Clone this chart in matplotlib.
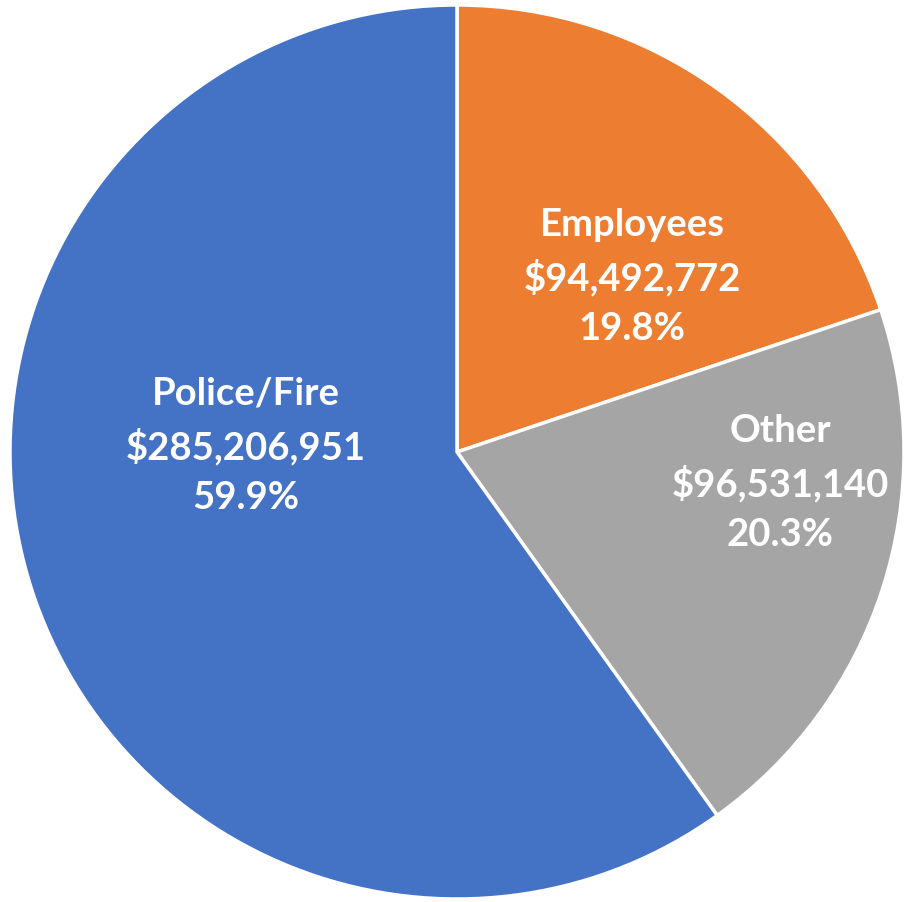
import matplotlib.pyplot as plt

# data
categories = ["Employees", "Other", "Police/Fire"]
amounts = [94492772, 96531140, 285206951]
colors = ["#ED7D31", "#A5A5A5", "#4472C4"]

# label centres (pixel coords, y from top)
label_pos = [(632, 277), (780, 483), (246, 446)]

W, H = 905, 902
fig = plt.figure(figsize=(W / 100, H / 100), dpi=100)
ax = fig.add_axes([0, 0, 1, 1])

cx, cy, r = 457, H - 452, 447
ax.pie(amounts, colors=colors, startangle=90, counterclock=False,
       center=(cx, cy), radius=r, frame=True,
       wedgeprops=dict(edgecolor="white", linewidth=2.5))
ax.set_xlim(0, W)
ax.set_ylim(0, H)
ax.set_aspect("equal")
ax.axis("off")

total = sum(amounts)
for name, amt, (x, y) in zip(categories, amounts, label_pos):
    txt = f"{name}\n${amt:,}\n{amt / total * 100:.1f}%"
    ax.text(x, H - y, txt, ha="center", va="center", color="white",
            fontsize=27.5, fontweight="bold", family="Lato", linespacing=1.55)

fig.savefig("out.png", dpi=100)
